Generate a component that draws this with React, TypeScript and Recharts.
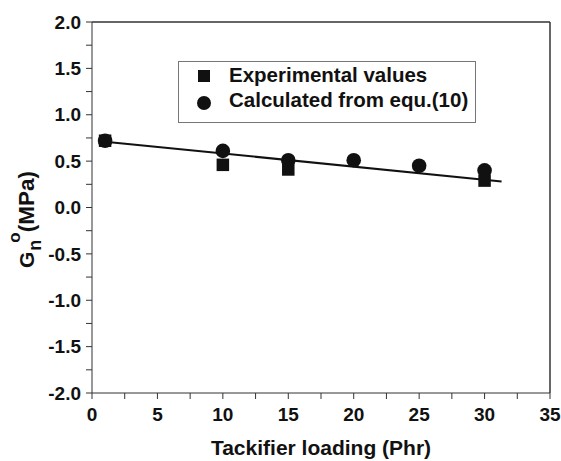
import React from 'react';
import { ComposedChart, Scatter, Line, XAxis, YAxis, ReferenceLine } from 'recharts';

const xTicks = [0, 2.5, 5, 7.5, 10, 12.5, 15, 17.5, 20, 22.5, 25, 27.5, 30, 32.5, 35];
const yTicks = [-2, -1.75, -1.5, -1.25, -1, -0.75, -0.5, -0.25, 0, 0.25, 0.5, 0.75, 1, 1.25, 1.5, 1.75, 2];

const seriesNames = ['Experimental values', 'Calculated from equ.(10)'];

const experimental = [
  { x: 1, y: 0.72 },
  { x: 10, y: 0.46 },
  { x: 15, y: 0.41 },
  { x: 30, y: 0.29 },
];
const calculated = [
  { x: 1, y: 0.72 },
  { x: 10, y: 0.61 },
  { x: 15, y: 0.51 },
  { x: 20, y: 0.51 },
  { x: 25, y: 0.45 },
  { x: 30, y: 0.4 },
];
const fitLine = [
  { x: 1, y: 0.71 },
  { x: 31.3, y: 0.28 },
];

const FONT = '"Liberation Sans", Arial, Helvetica, sans-serif';
const INK = '#111';
const AXIS = '#333';

const SquareShape = (props: any) => {
  const { cx, cy } = props;
  if (cx == null || cy == null) return null;
  const s = 12.5;
  return <rect x={cx - s / 2} y={cy - s / 2} width={s} height={s} fill={INK} />;
};
const CircleShape = (props: any) => {
  const { cx, cy } = props;
  if (cx == null || cy == null) return null;
  return <circle cx={cx} cy={cy} r={7.3} fill={INK} />;
};

const LegendBox = () => (
  <svg
    width={298}
    height={62}
    style={{ position: 'absolute', left: 177.5, top: 60.5, overflow: 'visible' }}
  >
    <rect x={0.5} y={0.5} width={297} height={61} fill="#fff" stroke="#777" strokeWidth={1} />
    <rect x={20} y={9} width={12} height={12} fill={INK} />
    <circle cx={26} cy={42} r={7} fill={INK} />
    <text x={51} y={20.5} fontFamily={FONT} fontWeight="bold" fontSize={20.5} fill={INK}>
      {seriesNames[0]}
    </text>
    <text x={51} y={45.5} fontFamily={FONT} fontWeight="bold" fontSize={20.5} fill={INK}>
      {seriesNames[1]}
    </text>
  </svg>
);

const YLabel = () => (
  <text
    transform="translate(34,268) rotate(-90)"
    fontFamily={FONT}
    fontWeight="bold"
    fontSize={21}
    fill={INK}
  >
    <tspan>G</tspan>
    <tspan dx={1} dy={7} fontSize={18}>n</tspan>
    <tspan dx={-3} dy={-21} fontSize={17}>o</tspan>
    <tspan dy={14} fontSize={22.5}>(MPa)</tspan>
  </text>
);

export default function App() {
  return (
    <div style={{ position: 'absolute', left: 0, top: 0, width: 561, height: 461, background: '#fff' }}>
      <ComposedChart
        width={561}
        height={461}
        margin={{ top: 22, right: 11, bottom: 0, left: 0 }}
      >
        <XAxis
          dataKey="x"
          type="number"
          domain={[0, 35]}
          ticks={xTicks}
          interval={0}
          tickFormatter={(v: number) => (v % 5 === 0 ? String(v) : '')}
          height={68}
          tickSize={6}
          tickMargin={9}
          stroke={AXIS}
          tick={{ fontFamily: FONT, fontWeight: 'bold', fontSize: 19, fill: INK }}
          label={{
            value: 'Tackifier loading (Phr)',
            position: 'insideBottom',
            offset: 6,
            style: { fontFamily: FONT, fontWeight: 'bold', fontSize: 21, fill: INK },
          }}
          allowDataOverflow
        />
        <YAxis
          type="number"
          domain={[-2, 2]}
          ticks={yTicks}
          interval={0}
          tickFormatter={(v: number) => (Math.abs((v * 2) % 1) < 1e-9 ? v.toFixed(1) : '')}
          width={92}
          tickSize={6}
          tickMargin={5}
          stroke={AXIS}
          tick={{ fontFamily: FONT, fontWeight: 'bold', fontSize: 19, fill: INK }}
          label={{ content: () => <YLabel /> }}
          allowDataOverflow
        />
        <ReferenceLine y={2} stroke={AXIS} strokeWidth={1.5} ifOverflow="visible" />
        <ReferenceLine x={35} stroke={AXIS} strokeWidth={1.5} ifOverflow="visible" />
        <Line
          data={fitLine}
          dataKey="y"
          stroke={INK}
          strokeWidth={2}
          dot={false}
          isAnimationActive={false}
          legendType="none"
        />
        <Scatter
          data={experimental}
          dataKey="y"
          name={seriesNames[0]}
          shape={<SquareShape />}
          isAnimationActive={false}
        />
        <Scatter
          data={calculated}
          dataKey="y"
          name={seriesNames[1]}
          shape={<CircleShape />}
          isAnimationActive={false}
        />
      </ComposedChart>
      <LegendBox />
    </div>
  );
}
